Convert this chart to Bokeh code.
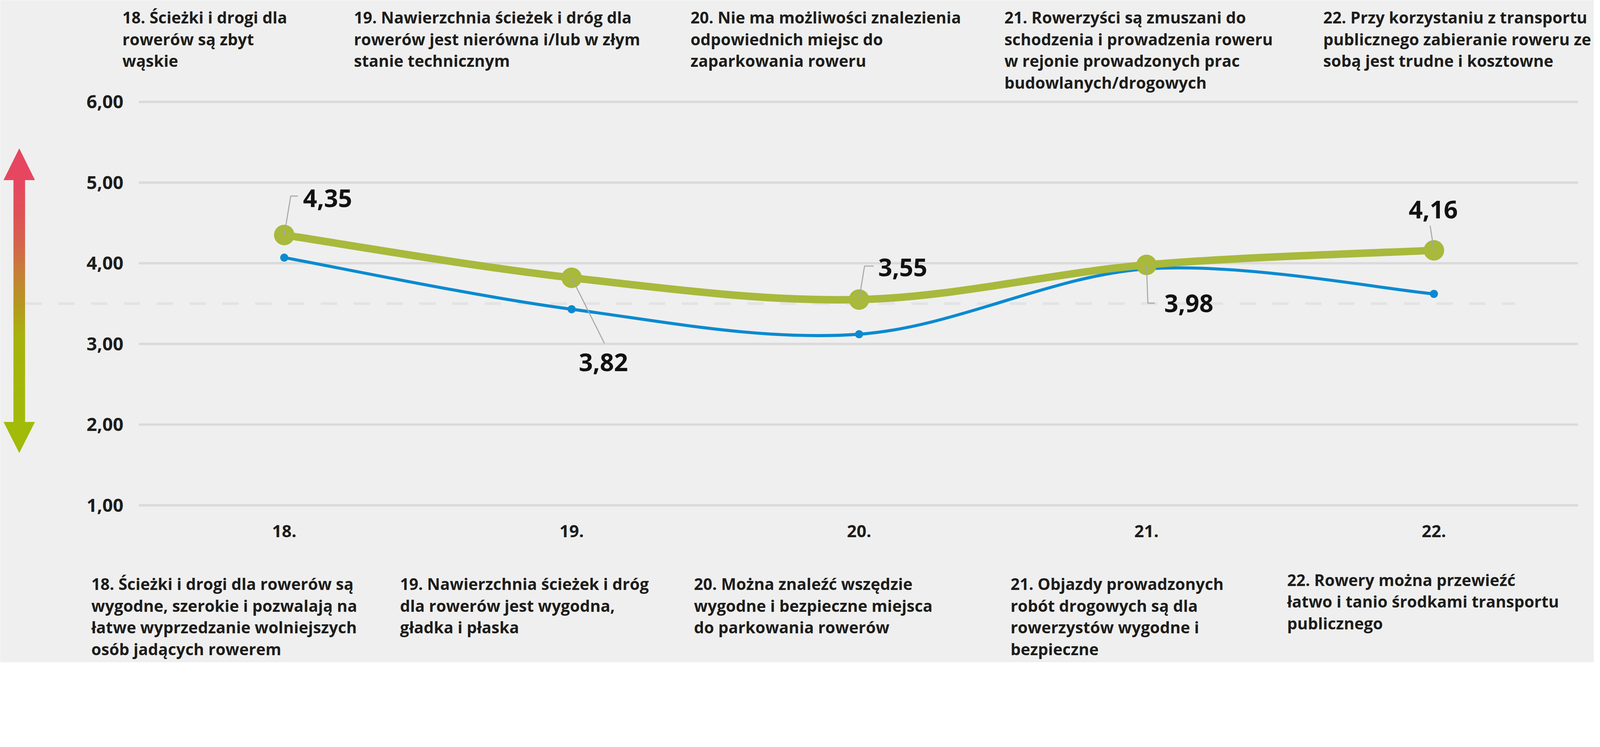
from bokeh.plotting import figure
from bokeh.models import FixedTicker, Range1d
from bokeh.embed import file_html
from bokeh.resources import INLINE
from bokeh.core.properties import value

# ---------------- data ----------------
categories = ["18.", "19.", "20.", "21.", "22."]
series_green = [4.35, 3.82, 3.55, 3.98, 4.16]
series_blue = [4.07, 3.43, 3.12, 3.93, 3.62]
y_ticks = [1, 2, 3, 4, 5, 6]
y_tick_labels = ["1,00", "2,00", "3,00", "4,00", "5,00", "6,00"]
reference_level = 3.5

top_texts = [
    ["18. Ścieżki i drogi dla", "rowerów są zbyt", "wąskie"],
    ["19. Nawierzchnia ścieżek i dróg dla", "rowerów jest nierówna i/lub w złym", "stanie technicznym"],
    ["20. Nie ma możliwości znalezienia", "odpowiednich miejsc do", "zaparkowania roweru"],
    ["21. Rowerzyści są zmuszani do", "schodzenia i prowadzenia roweru", "w rejonie prowadzonych prac", "budowlanych/drogowych"],
    ["22. Przy korzystaniu z transportu", "publicznego zabieranie roweru ze", "sobą jest trudne i kosztowne"],
]
bottom_texts = [
    ["18. Ścieżki i drogi dla rowerów są", "wygodne, szerokie i pozwalają na", "łatwe wyprzedzanie wolniejszych", "osób jadących rowerem"],
    ["19. Nawierzchnia ścieżek i dróg", "dla rowerów jest wygodna,", "gładka i płaska"],
    ["20. Można znaleźć wszędzie", "wygodne i bezpieczne miejsca", "do parkowania rowerów"],
    ["21. Objazdy prowadzonych", "robót drogowych są dla", "rowerzystów wygodne i", "bezpieczne"],
    ["22. Rowery można przewieźć", "łatwo i tanio środkami transportu", "publicznego"],
]

# ---------------- layout / style ----------------
Z = 1.144                       # screen pixels per CSS pixel observed in the renderer
W = round(4686 / Z) - 16
H = round(1912 / Z) + 24        # a little taller so the last text lines are not clipped
REF_X18, REF_DX = 841.0, 841.75   # reference pixel position of first category / spacing
REF_Y1, REF_DY = 1488.0, 236.2    # reference pixel position of value 1 / px per unit


def xd(rx):
    return 18 + (rx - REF_X18) / REF_DX


def yd(ry):
    return 1 + (REF_Y1 - ry) / REF_DY


def px(v):
    return v / Z


BG = "#EFEFEF"
TXT = "#1D1D1B"
GREEN = "#A8B93C"
BLUE = "#0B8AD1"
FONT = "Open Sans"

xs = [18 + i for i in range(len(categories))]

p = figure(width=W, height=H,
           x_range=Range1d(xd(8 * Z), xd((8 + W) * Z)),
           y_range=Range1d(yd((8 + H) * Z), yd(8 * Z)),
           output_backend="svg", toolbar_location=None, title=None,
           min_border=0, background_fill_color=BG, border_fill_color=BG, outline_line_color=None)
p.xgrid.visible = False
p.ygrid.visible = False

# axes placed at fixed data locations inside the frame
p.yaxis.fixed_location = xd(418)
p.xaxis.fixed_location = yd(1500)
p.yaxis.ticker = FixedTicker(ticks=y_ticks)
p.yaxis.major_label_overrides = {float(t): l for t, l in zip(y_ticks, y_tick_labels)}
p.xaxis.ticker = FixedTicker(ticks=xs)
p.xaxis.major_label_overrides = {float(t): c for t, c in zip(xs, categories)}
for ax in (p.xaxis, p.yaxis):
    ax.axis_line_color = None
    ax.major_tick_line_color = None
    ax.minor_tick_line_color = None
    ax.major_tick_out = 0
    ax.major_tick_in = 0
    ax.major_label_text_font = FONT
    ax.major_label_text_font_style = "bold"
    ax.major_label_text_color = TXT
p.yaxis.major_label_text_font_size = f"{px(54):.1f}px"
p.yaxis.major_label_standoff = round(px(48))
p.xaxis.major_label_text_font_size = f"{px(50):.1f}px"
p.xaxis.major_label_standoff = round(px(46))

# horizontal grid lines at the y ticks
p.segment(x0=xd(418), x1=xd(4627), y0=y_ticks, y1=y_ticks,
          line_color="#DADADA", line_width=px(7), line_cap="round")

# reference dashed line
p.segment(x0=[xd(83)], x1=[xd(4446)], y0=[reference_level], y1=[reference_level],
          line_color="#E3E3E3", line_width=px(8), line_dash=f"{px(48):.0f} {px(48):.0f}")


# smoothed series (Catmull-Rom style bezier segments through the data points)
def smooth(x, y):
    n = len(x)
    seg = dict(x0=[], y0=[], x1=[], y1=[], cx0=[], cy0=[], cx1=[], cy1=[])
    for i in range(n - 1):
        a = i - 1 if i > 0 else i
        d = i + 2 if i + 2 < n else i + 1
        seg["x0"].append(x[i]); seg["y0"].append(y[i])
        seg["x1"].append(x[i + 1]); seg["y1"].append(y[i + 1])
        seg["cx0"].append(x[i] + (x[i + 1] - x[a]) / 6)
        seg["cy0"].append(y[i] + (y[i + 1] - y[a]) / 6)
        seg["cx1"].append(x[i + 1] - (x[d] - x[i]) / 6)
        seg["cy1"].append(y[i + 1] - (y[d] - y[i]) / 6)
    return seg


p.bezier(**smooth(xs, series_blue), line_color=BLUE, line_width=px(9), line_cap="round")
p.scatter(xs, series_blue, size=px(24), fill_color=BLUE, line_color=None)
p.bezier(**smooth(xs, series_green), line_color=GREEN, line_width=px(22), line_cap="round")
p.scatter(xs, series_green, size=px(60), fill_color=GREEN, line_color=None)

# data label leader lines + labels (offsets in reference pixels from each point)
leader_off = [
    [(0, 0), (19, -114), (40, -114)],
    [(0, 0), (96, 192)],
    [(0, 0), (16, -98), (43, -98)],
    [(0, 0), (4, 112), (24, 112)],
    [(0, 0), (-11, -72)],
]
label_off = [(55, -108), (21, 248), (56, -94), (52, 113), (-74, -119)]

lx, ly = [], []
for x, y, path in zip(xs, series_green, leader_off):
    lx.append([x + dx / REF_DX for dx, dy in path])
    ly.append([y - dy / REF_DY for dx, dy in path])
p.multi_line(lx, ly, line_color="#A6A6A6", line_width=px(3))

p.text(x=[x + dx / REF_DX for x, (dx, dy) in zip(xs, label_off)],
       y=[y - dy / REF_DY for y, (dx, dy) in zip(series_green, label_off)],
       text=[f"{v:.2f}".replace(".", ",") for v in series_green],
       text_font=value(FONT), text_font_style="bold", text_font_size=value(f"{px(72):.1f}px"),
       text_color="#111111", text_align="left", text_baseline="middle")

# category descriptions above and below the plot
top_x = [367, 1045, 2031, 2950, 3884]
bottom_x = [276, 1180, 2041, 2968, 3778]
bottom_y0 = [1718, 1718, 1718, 1718, 1706]
LINE = 63.5
tx, ty, tt = [], [], []
for col, lines in enumerate(top_texts):
    for j, line in enumerate(lines):
        tx.append(xd(top_x[col])); ty.append(yd(59 + j * LINE)); tt.append(line)
for col, lines in enumerate(bottom_texts):
    for j, line in enumerate(lines):
        tx.append(xd(bottom_x[col])); ty.append(yd(bottom_y0[col] + j * LINE)); tt.append(line)
p.text(x=tx, y=ty, text=tt, text_font=value(FONT), text_font_style="bold",
       text_font_size=value(f"{px(47):.1f}px"), text_color=TXT,
       text_align="left", text_baseline="alphabetic")

# gradient double arrow (red = worse, green = better)
stops = [(535, (0xE6, 0x46, 0x5F)), (640, (0xDF, 0x52, 0x57)), (730, (0xD3, 0x66, 0x4A)),
         (830, (0xC2, 0x86, 0x32)), (900, (0xB5, 0x98, 0x20)), (990, (0xA6, 0xB2, 0x0E)),
         (1245, (0xA2, 0xBA, 0x08))]


def grad(ry):
    for (ya, ca), (yb, cb) in zip(stops[:-1], stops[1:]):
        if ya <= ry <= yb:
            t = (ry - ya) / (yb - ya)
            return "#%02X%02X%02X" % tuple(round(a + (b - a) * t) for a, b in zip(ca, cb))
    return "#%02X%02X%02X" % (stops[-1][1] if ry > stops[-1][0] else stops[0][1])


STEP = 8
tops = list(range(533, 1247, STEP))
p.quad(left=xd(48), right=xd(82), top=[yd(t) for t in tops],
       bottom=[yd(min(t + STEP + 1, 1247)) for t in tops],
       fill_color=[grad(t + STEP / 2) for t in tops], line_color=None)
p.patches(xs=[[xd(19), xd(111), xd(65)], [xd(19), xd(111), xd(65)]],
          ys=[[yd(536), yd(536), yd(443)], [yd(1244), yd(1244), yd(1335)]],
          fill_color=["#E6465F", "#A2BA08"], line_color=None)

open("out.html", "w").write(file_html(p, INLINE))
